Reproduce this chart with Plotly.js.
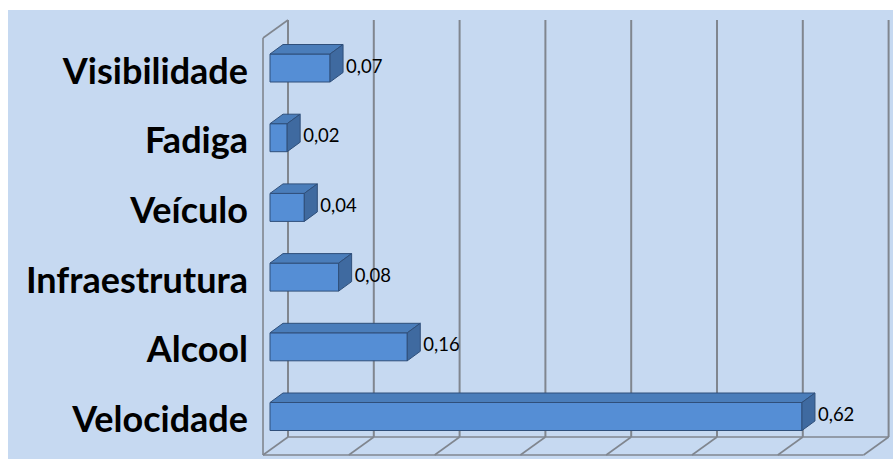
<!DOCTYPE html>
<html>
<head>
<meta charset="utf-8">
<script src="https://cdn.plot.ly/plotly-3.0.1.min.js"></script>
<style>
  html, body { margin: 0; padding: 0; background: #ffffff; width: 893px; height: 459px; overflow: hidden; }
  #chart { position: absolute; left: 8px; top: 10px; width: 885px; height: 449px; }
</style>
</head>
<body>
<div id="chart"></div>
<script>
// ---- data ----
const categories = ['Velocidade', 'Alcool', 'Infraestrutura', 'Veículo', 'Fadiga', 'Visibilidade'];
const values = [0.62, 0.16, 0.08, 0.04, 0.02, 0.07];
const valueLabels = ['0,62', '0,16', '0,08', '0,04', '0,02', '0,07'];
const gridValues = [0, 0.1, 0.2, 0.3, 0.4, 0.5, 0.6, 0.7];

// ---- geometry (page pixels) ----
const DIV_X = 8, DIV_Y = 10, DIV_W = 885, DIV_H = 449;
const PL = 261, PR = 891, PT = 18, PB = 457;   // plot area
const X0 = 270, XS = 858;                      // value 0 at bar front face, px per unit
const Y0 = 416.5, YS = 69.7;                   // first category center, px per category
const toX = px => (px - X0) / XS;
const toY = py => (Y0 - py) / YS;
const dX = px => px / XS;
const dY = py => py / YS;

const FRONT_OFF = -7, BACK_OFF = 18;           // box front / back wall offsets from bar front (x px)
const BAR_DX = 13, BAR_DY = 9.5;               // bar depth
const BAR_H = 28;                              // bar front height px
const LABEL_GAP = 3;                           // extra gap before value labels (px)
const yBackTop = toY(20), yBackFloor = toY(437), yFrontFloor = toY(455), yFrontTop = toY(38);

const gridColor = '#80868f';
const frontColor = '#558ed5';
const topColor = '#4a7dba';
const sideColor = '#3f6aa0';
const edgeColor = '#2f4f7a';

const ks = categories.map((c, i) => i);
const traces = [];

// front faces
traces.push({
  type: 'bar', orientation: 'h',
  x: values, y: ks, base: 0, width: dY(BAR_H),
  marker: { color: frontColor, line: { color: edgeColor, width: 1 } },
  hoverinfo: 'skip', showlegend: false
});

// top and side faces
values.forEach((v, i) => {
  const yt = i + dY(BAR_H) / 2, yb = i - dY(BAR_H) / 2;
  const ddx = dX(BAR_DX), ddy = dY(BAR_DY);
  traces.push({
    type: 'scatter', mode: 'lines', fill: 'toself', fillcolor: topColor,
    x: [0, v, v + ddx, ddx, 0], y: [yt, yt, yt + ddy, yt + ddy, yt],
    line: { color: edgeColor, width: 1 }, hoverinfo: 'skip', showlegend: false
  });
  traces.push({
    type: 'scatter', mode: 'lines', fill: 'toself', fillcolor: sideColor,
    x: [v, v + ddx, v + ddx, v, v], y: [yt, yt + ddy, yb + ddy, yb, yt],
    line: { color: edgeColor, width: 1 }, hoverinfo: 'skip', showlegend: false
  });
});

// value labels
traces.push({
  type: 'scatter', mode: 'text',
  x: values.map(v => v + dX(BAR_DX + LABEL_GAP)), y: ks,
  text: valueLabels, textposition: 'middle right',
  textfont: { family: 'Lato, "Open Sans", sans-serif', size: 18.5, color: '#000000' },
  hoverinfo: 'skip', showlegend: false, cliponaxis: false
});

// frame (walls, floor, gridlines) as shapes below traces
const shapes = [];
const ln = (x0, y0, x1, y1, w) => ({
  type: 'line', xref: 'x', yref: 'y', x0, y0, x1, y1, layer: 'below',
  line: { color: gridColor, width: w || 1.6 }
});
const bx = dX(BACK_OFF), fx = dX(FRONT_OFF);
gridValues.forEach(t => {
  shapes.push(ln(t + bx, yBackTop, t + bx, yBackFloor, 2));
  shapes.push(ln(t + bx, yBackFloor, t + fx, yFrontFloor));
});
const gMax = gridValues[gridValues.length - 1], gMin = gridValues[0];
shapes.push(ln(gMin + bx, yBackFloor, gMax + bx, yBackFloor));
shapes.push(ln(gMin + fx, yFrontFloor, gMax + fx, yFrontFloor));
shapes.push(ln(gMin + fx, yFrontFloor, gMin + fx, yFrontTop));
shapes.push(ln(gMin + fx, yFrontTop, gMin + bx, yBackTop));

const layout = {
  width: DIV_W, height: DIV_H,
  margin: { l: PL - DIV_X, r: DIV_X + DIV_W - PR, t: PT - DIV_Y, b: DIV_Y + DIV_H - PB, pad: 0 },
  paper_bgcolor: '#c6d9f1', plot_bgcolor: 'rgba(0,0,0,0)',
  showlegend: false,
  xaxis: { range: [toX(PL), toX(PR)], showgrid: false, zeroline: false, showline: false,
           showticklabels: false, ticks: '', fixedrange: true },
  yaxis: { range: [toY(PB), toY(PT)], showgrid: false, zeroline: false, showline: false,
           tickmode: 'array', tickvals: ks, ticktext: categories, ticks: '',
           ticklabelstandoff: 12, ticklabelshift: 3,
           tickfont: { family: 'Lato, "Open Sans", sans-serif', size: 36, color: '#000000', weight: 700 },
           fixedrange: true },
  shapes: shapes,
  font: { family: 'Lato, sans-serif' }
};

Plotly.newPlot('chart', traces, layout, { displayModeBar: false, staticPlot: true });
</script>
</body>
</html>
